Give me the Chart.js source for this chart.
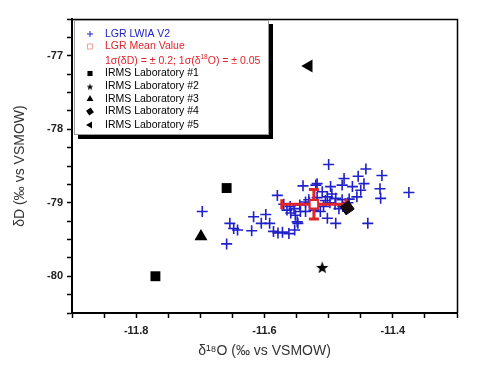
<!DOCTYPE html>
<html>
<head>
<meta charset="utf-8">
<script src="https://cdn.jsdelivr.net/npm/chart.js@4/dist/chart.umd.min.js"></script>
<style>
  html, body { margin: 0; background: #fff; }
</style>
</head>
<body>
<canvas id="c" width="480" height="368"></canvas>
<script>
// values
const lgrX = [-11.697, -11.659, -11.654, -11.648, -11.642, -11.620, -11.617, -11.605, -11.598, -11.592,
  -11.586, -11.579, -11.572, -11.562, -11.553, -11.548, -11.580, -11.540, -11.565, -11.559,
  -11.552, -11.544, -11.536, -11.531, -11.520, -11.500, -11.442, -11.454, -11.417, -11.476,
  -11.445, -11.420, -11.419, -11.375, -11.518, -11.497, -11.479, -11.463, -11.450, -11.456,
  -11.510, -11.502, -11.489, -11.479, -11.484, -11.502, -11.489, -11.439, -11.523, -11.513,
  -11.536, -11.554, -11.549, -11.530, -11.508, -11.498, -11.490, -11.518, -11.505, -11.470,
  -11.478, -11.560, -11.545, -11.570, -11.495, -11.468];
const lgrY = [-79.12, -79.56, -79.28, -79.35, -79.37, -79.38, -79.19, -79.28, -79.16, -79.28,
  -79.39, -79.41, -79.40, -79.42, -79.37, -79.28, -78.90, -78.77, -79.10, -79.14,
  -79.17, -79.12, -79.12, -78.96, -78.76, -78.48, -78.54, -78.64, -78.63, -78.67,
  -78.74, -78.81, -78.94, -78.86, -78.74, -78.78, -78.76, -78.78, -78.83, -78.92,
  -78.85, -78.92, -78.94, -78.96, -79.08, -79.21, -79.28, -79.28, -79.10, -79.12,
  -78.99, -79.08, -79.26, -79.00, -79.05, -79.00, -79.02, -78.93, -78.97, -79.00,
  -79.05, -79.05, -79.03, -79.02, -78.88, -78.95];

const meanX = [-11.523];
const meanY = [-79.02];
const sigmaO = 0.05;
const sigmaD = 0.2;

const lab1X = [-11.770, -11.659];
const lab1Y = [-80.00, -78.80];
const lab2X = [-11.510];
const lab2Y = [-79.88];
const lab3X = [-11.699];
const lab3Y = [-79.46];
const lab4X = [-11.471];
const lab4Y = [-79.07];
const lab5X = [-11.531];
const lab5Y = [-77.14];

const xTicks = [-11.8, -11.6, -11.4];
const yTicks = [-80, -79, -78, -77];

const BLUE = '#2020c8';
const RED = '#e0242c';
const FONT = '"Liberation Sans", Arial, sans-serif';

const pts = (xs, ys) => xs.map((x, i) => ({ x: x, y: ys[i] }));

function starImg(r) {
  const s = Math.ceil(r * 2 + 2);
  const c = document.createElement('canvas');
  c.width = s; c.height = s;
  const g = c.getContext('2d');
  g.beginPath();
  for (let i = 0; i < 10; i++) {
    const a = -Math.PI / 2 + i * Math.PI / 5;
    const rr = i % 2 ? r * 0.42 : r;
    g.lineTo(s / 2 + rr * Math.cos(a), s / 2 + 0.6 + rr * Math.sin(a));
  }
  g.closePath();
  g.fillStyle = '#000';
  g.fill();
  return c;
}
const starBig = starImg(6.5);
const starSmall = starImg(3.6);

const datasets = [
  { label: 'LGR LWIA V2', data: pts(lgrX, lgrY), pointStyle: 'cross', pointRadius: 5.5,
    borderColor: BLUE, backgroundColor: BLUE, pointBorderWidth: 1.6, order: 5,
    legendColor: BLUE, legendRadius: 3, legendWidth: 1 },
  { label: 'LGR Mean Value', data: pts(meanX, meanY), pointStyle: 'rect', pointRadius: 6,
    borderColor: RED, backgroundColor: '#fff', pointBorderWidth: 2, order: 2,
    legendColor: RED, legendFill: '#fff', legendRadius: 3.5, legendWidth: 0.8, legendStroke: '#e8a0a0' },
  { label: 'IRMS Laboratory #1', data: pts(lab1X, lab1Y), pointStyle: 'rect', pointRadius: 7,
    borderColor: '#000', backgroundColor: '#000', pointBorderWidth: 0, order: 1,
    legendColor: '#000', legendRadius: 3.6 },
  { label: 'IRMS Laboratory #2', data: pts(lab2X, lab2Y), pointStyle: starBig, pointRadius: 6,
    borderColor: '#000', backgroundColor: '#000', pointBorderWidth: 0, order: 1,
    legendColor: '#000', legendStyle: starSmall },
  { label: 'IRMS Laboratory #3', data: pts(lab3X, lab3Y), pointStyle: 'triangle', pointRadius: 7.5,
    borderColor: '#000', backgroundColor: '#000', pointBorderWidth: 0, order: 1,
    legendColor: '#000', legendRadius: 4 },
  { label: 'IRMS Laboratory #4', data: pts(lab4X, lab4Y), pointStyle: 'rectRot', pointRadius: 7,
    borderColor: '#000', backgroundColor: '#1a0a0a', pointBorderWidth: 1, pointRotation: 10, order: 1,
    legendColor: '#000', legendRadius: 4 },
  { label: 'IRMS Laboratory #5', data: pts(lab5X, lab5Y), pointStyle: 'triangle', pointRadius: 7.5,
    pointRotation: -90, borderColor: '#000', backgroundColor: '#000', pointBorderWidth: 0, order: 1,
    legendColor: '#000', legendRadius: 4 }
];

// red 1-sigma error bars on the mean, drawn right after the LGR crosses
const errorBars = {
  id: 'errorBars',
  afterDatasetDraw(chart, args) {
    if (args.index !== 0) return;
    const ctx = chart.ctx, xs = chart.scales.x, ys = chart.scales.y;
    ctx.save();
    ctx.strokeStyle = RED;
    ctx.lineWidth = 3;
    meanX.forEach((mx, i) => {
      const cx = xs.getPixelForValue(mx), cy = ys.getPixelForValue(meanY[i]);
      const x1 = xs.getPixelForValue(mx - sigmaO), x2 = xs.getPixelForValue(mx + sigmaO);
      const y1 = ys.getPixelForValue(meanY[i] + sigmaD), y2 = ys.getPixelForValue(meanY[i] - sigmaD);
      ctx.beginPath();
      ctx.moveTo(x1, cy); ctx.lineTo(x2, cy);
      ctx.moveTo(cx, y1); ctx.lineTo(cx, y2);
      ctx.moveTo(x1, cy - 5); ctx.lineTo(x1, cy + 5);
      ctx.moveTo(x2, cy - 5); ctx.lineTo(x2, cy + 5);
      ctx.moveTo(cx - 5, y1); ctx.lineTo(cx + 5, y1);
      ctx.moveTo(cx - 5, y2); ctx.lineTo(cx + 5, y2);
      ctx.stroke();
    });
    ctx.restore();
  }
};

// top/right frame lines and the boxed legend with its drop shadow
const frameLegend = {
  id: 'frameLegend',
  afterDatasetsDraw(chart) {
    const ctx = chart.ctx, a = chart.chartArea;
    ctx.save();
    ctx.strokeStyle = '#000';
    ctx.lineWidth = 1.5;
    ctx.beginPath();
    ctx.moveTo(a.left, a.top + 0.5); ctx.lineTo(a.right + 0.5, a.top + 0.5); ctx.lineTo(a.right + 0.5, a.bottom);
    ctx.stroke();

    const x0 = a.left + 2, y0 = a.top + 1, w = 195, h = 115;
    ctx.fillStyle = '#000';
    ctx.fillRect(x0 + 4, y0 + 4, w, h);
    ctx.fillStyle = '#fff';
    ctx.fillRect(x0, y0, w, h);
    ctx.strokeStyle = '#9a9a9a';
    ctx.lineWidth = 1;
    ctx.strokeRect(x0 + 0.5, y0 + 0.5, w - 1, h - 1);

    const symX = x0 + 16, txtX = x0 + 31;
    const rowsY = [14, 26.5, 41.5, 53.5, 66.5, 79, 91.5, 105];
    const fs = 10.5;
    ctx.font = fs + 'px ' + FONT;
    ctx.textBaseline = 'middle';
    let r = 0;
    chart.data.datasets.forEach((ds, i) => {
      const yy = y0 + rowsY[r];
      ctx.fillStyle = ds.legendFill || ds.legendColor;
      ctx.strokeStyle = ds.legendStroke || ds.legendColor;
      Chart.helpers.drawPoint(ctx, {
        pointStyle: ds.legendStyle || ds.pointStyle,
        radius: ds.legendRadius || 4,
        rotation: ds.pointRotation || 0,
        borderWidth: ds.legendWidth || 0
      }, symX, yy);
      ctx.fillStyle = ds.legendColor;
      ctx.fillText(ds.label, txtX, yy);
      r++;
      if (i === 1) {
        // sigma line under the mean entry
        const sy = y0 + rowsY[r];
        ctx.fillStyle = RED;
        let tx = txtX;
        const part1 = '1σ(δD) = ± 0.2; 1σ(δ';
        ctx.fillText(part1, tx, sy);
        tx += ctx.measureText(part1).width;
        ctx.font = '6.5px ' + FONT;
        ctx.fillText('18', tx, sy - 4);
        tx += ctx.measureText('18').width;
        ctx.font = fs + 'px ' + FONT;
        ctx.fillText('O) = ± 0.05', tx, sy);
        r++;
      }
    });
    ctx.restore();
  }
};

const tickFont = { family: FONT, size: 11, weight: 'bold' };
const titleFont = { family: FONT, size: 14 };

new Chart(document.getElementById('c'), {
  type: 'scatter',
  data: { datasets: datasets },
  options: {
    responsive: false,
    animation: false,
    devicePixelRatio: 1,
    layout: { padding: { left: 8, right: 23, top: 19, bottom: 8 } },
    plugins: { legend: { display: false }, tooltip: { enabled: false } },
    scales: {
      x: {
        type: 'linear', position: 'bottom', min: -11.9, max: -11.3,
        afterFit: (s) => { s.height = 47; },
        ticks: {
          stepSize: 0.05, autoSkip: false, maxRotation: 0, padding: 6,
          color: '#222', font: tickFont,
          callback: (v) => {
            const t = xTicks.find(t => Math.abs(t - v) < 1e-6);
            return t === undefined ? '' : t.toFixed(1);
          }
        },
        grid: { drawOnChartArea: false, tickLength: 5, tickColor: '#000', tickWidth: 1.5 },
        border: { color: '#000', width: 2 },
        title: { display: true, text: 'δ¹⁸O (‰ vs VSMOW)', color: '#333', font: titleFont, padding: 0 }
      },
      y: {
        type: 'linear', position: 'left', min: -80.5, max: -76.5,
        afterFit: (s) => { s.width = 64; },
        ticks: {
          stepSize: 0.25, autoSkip: false, padding: 4,
          color: '#222', font: tickFont,
          callback: (v) => {
            const t = yTicks.find(t => Math.abs(t - v) < 1e-6);
            return t === undefined ? '' : String(t);
          }
        },
        grid: { drawOnChartArea: false, tickLength: 5, tickColor: '#000', tickWidth: 1.5 },
        border: { color: '#000', width: 2 },
        title: { display: true, text: 'δD (‰ vs VSMOW)', color: '#333', font: titleFont, padding: 4 }
      }
    }
  },
  plugins: [errorBars, frameLegend]
});
</script>
</body>
</html>
